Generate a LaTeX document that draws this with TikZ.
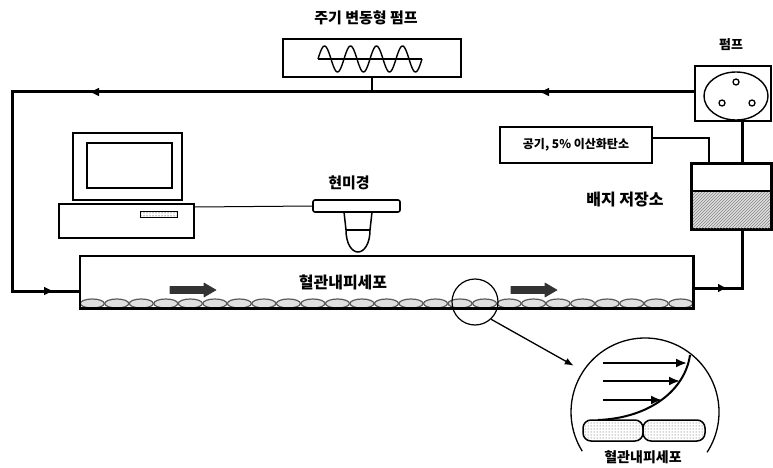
\documentclass[tikz,border=0pt]{standalone}
\usepackage{fontspec}
\newfontfamily\kr{Noto Sans CJK KR}
\usetikzlibrary{arrows.meta,decorations.markings,patterns}
\begin{document}
\begin{tikzpicture}[x=1pt,y=-1pt,
  lbl/.style={font=\kr\bfseries},
  loopline/.style={line width=3pt,line join=miter},
  box/.style={draw,line width=2pt,inner sep=0pt},
  flowarrow/.style={fill=black!80,draw=black!80,line width=0.6pt,line join=round},
  cell/.style={draw=black!65,line width=1.2pt,fill=black!12}]
\useasboundingbox (0,0) rectangle (773,468);

% --- labels ---
\node[lbl,font=\kr\bfseries\fontsize{15}{16}\selectfont] (wavelbl) at (366,18) {주기 변동형 펌프};
\node[lbl,font=\kr\bfseries\fontsize{13}{14}\selectfont] (pumplbl) at (731,45) {펌프};
\node[lbl,font=\kr\bfseries\fontsize{16}{17}\selectfont] (reslbl) at (625,200) {배지 저장소};

% --- periodic pump box with sine wave ---
\node[box,minimum width=178pt,minimum height=38pt] (wave) at (372,58) {};
\draw[line width=1.2pt] (318,59) -- (422,59);
\draw[line width=1.4pt,domain=0:4,samples=120,smooth]
  plot ({318+26*\x},{59-13*sin(360*\x)});

% --- roller pump ---
\node[box,minimum width=76pt,minimum height=55pt] (pump) at (733,93.5) {};
\draw[line width=1.4pt] (736,96) ellipse [x radius=32pt,y radius=24pt];
\foreach \px/\py in {736/82,722/103,752/103}
  \draw[line width=1.3pt] (\px,\py) circle [radius=3pt];

% --- medium reservoir ---
\node[box,minimum width=79pt,minimum height=65pt] (res) at (731.5,196.5) {};
\fill[pattern=north east lines,pattern color=black!70] (693,192) rectangle (770,228);
\fill[black!25,opacity=0.5] (693,192) rectangle (770,228);
\draw[line width=2pt] (692,191) -- (771,191);
\draw[line width=2pt] (res.north west) rectangle (res.south east);

% --- gas supply box ---
\node[box,minimum width=152pt,minimum height=36pt,
      font=\kr\bfseries\fontsize{12}{13}\selectfont] (gas) at (576,145) {공기, 5\% 이산화탄소};
\coordinate (gasin) at (709,164);
\draw[line width=1.6pt] (gas.east |- 0,138) -| (gasin);

% --- computer ---
\node[box,minimum width=109pt,minimum height=67pt] (monitor) at (127.5,166.5) {};
\draw[line width=1.8pt] (87,143) rectangle (172,188);
\node[box,minimum width=135pt,minimum height=34pt] (cpu) at (126.5,221) {};
\draw[line width=1pt,pattern=dots] (140,211) rectangle (177,217);

% --- microscope ---
\node[draw,line width=1.6pt,rounded corners=2pt,minimum width=87pt,minimum height=12pt,inner sep=0pt] (stage) at (356.5,206) {};
\node[lbl,font=\kr\bfseries\fontsize{15}{16}\selectfont] (scopelbl) at (349,183) {현미경};
\draw[line width=1.5pt] (344,212) -- (346,230)
  .. controls (346,244) and (352,252) .. (358,252)
  .. controls (364,252) and (370,244) .. (370,230) -- (372,212);
\draw[line width=1.5pt] (346,230) -- (370,230);
\draw[line width=1pt] (cpu.east |- 0,207) -- (stage.west);

% --- flow channel with endothelial cells ---
\node[inner sep=0pt,minimum width=613pt,minimum height=52pt] (chan) at (386.5,282) {};
\foreach \i in {0,...,24}
  \draw[cell] ({80+12.26+24.52*\i},303.5) ellipse [x radius=12pt,y radius=4.5pt];
\draw[line width=2.6pt] (chan.north west) rectangle (chan.south east);
\node[lbl,font=\kr\bfseries\fontsize{16}{17}\selectfont] (chanlbl) at (343,282) {혈관내피세포};
\foreach \x in {170,511}
  \draw[flowarrow] (\x,286.5) -- (\x+34,286.5) -- (\x+34,283) -- (\x+46,290)
    -- (\x+34,297) -- (\x+34,293.5) -- (\x,293.5) -- cycle;

% --- circulation loop ---
\coordinate (tl) at (12,92);
\coordinate (bl) at (12,291);
\coordinate (inlet) at (80,291);
\draw[loopline,decoration={markings,
    mark=at position 155pt with {\arrow{Latex[length=10pt,width=9pt]}},
    mark=at position 605pt with {\arrow{Latex[length=10pt,width=9pt]}},
    mark=at position 923pt with {\arrow{Latex[length=10pt,width=9pt]}}},
    postaction={decorate}]
  (pump.west |- 0,92) -- (tl) -- (bl) -- (inlet);
\draw[line width=2pt] (wave.south) -- (wave.south |- 0,92);
\draw[loopline] (pump.south -| 742,0) -- (res.north -| 742,0);
\coordinate (outlet) at (693,288);
\draw[loopline,decoration={markings,
    mark=at position 34pt with {\arrow{Latex[length=9pt,width=9pt]}}},
    postaction={decorate}]
  (outlet) -- (742,288) -- (res.south -| 742,0);

% --- magnified view ---
\node[circle,draw,line width=1.2pt,minimum size=46pt,inner sep=0pt] (mag) at (475,302) {};
\node[circle,minimum size=148pt,inner sep=0pt,outer sep=11pt] (zoomc) at (645,412) {};
\draw[line width=1.3pt,-{Latex[length=9pt,width=7pt]}] (mag.-47) -- (zoomc.147);
\draw[line width=1.3pt] ([shift={(-33:74pt)}]zoomc.center) arc[start angle=-33,end angle=212,radius=74pt];
\draw[line width=1.5pt,pattern=dots,pattern color=black!70,rounded corners=8pt] (583,420) rectangle (643,441);
\draw[line width=1.5pt,pattern=dots,pattern color=black!70,rounded corners=8pt] (643,420) rectangle (705,441);
\draw[line width=2pt] (598,420) .. controls (650,418) and (685,390) .. (690,355);
\foreach \yy/\xe in {363/687,381/680,400/662}
  \draw[line width=2pt,-{Latex[length=11pt,width=9pt]}] (603,\yy) -- (\xe,\yy);
\node[lbl,font=\kr\bfseries\fontsize{14}{15}\selectfont] (zoomlbl) at (643,457) {혈관내피세포};
\end{tikzpicture}
\end{document}
